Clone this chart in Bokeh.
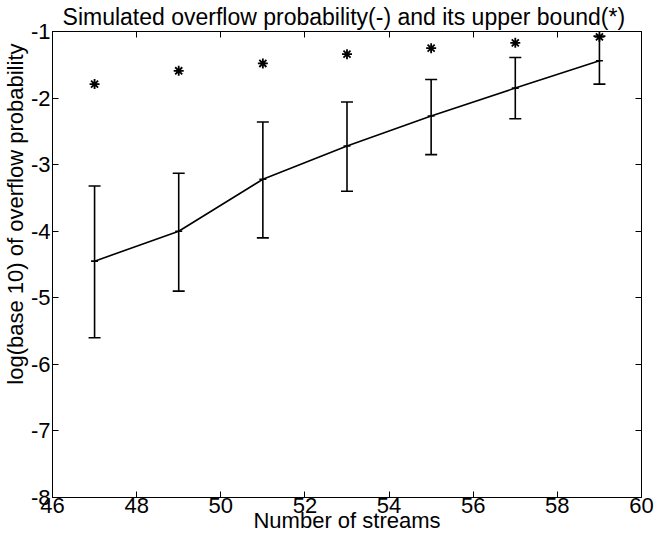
from bokeh.plotting import figure
from bokeh.models import ColumnDataSource, Whisker, TeeHead, LinearAxis, FixedTicker, Range1d, Title
from bokeh.embed import file_html
from bokeh.resources import INLINE

# ---- data ----
streams = [47, 49, 51, 53, 55, 57, 59]
sim_mean = [-4.45, -4.00, -3.22, -2.72, -2.27, -1.85, -1.44]
err_upper = [-3.32, -3.13, -2.36, -2.06, -1.72, -1.39, -1.07]
err_lower = [-5.60, -4.90, -4.10, -3.40, -2.85, -2.31, -1.79]
upper_bound = [-1.79, -1.59, -1.48, -1.34, -1.25, -1.17, -1.08]

x_ticks = [46, 48, 50, 52, 54, 56, 58, 60]
y_ticks = [-8, -7, -6, -5, -4, -3, -2, -1]
y_tick_labels = ["-8", "-7", "-6", "-5", "-4", "-3", "-2", "-1"]

title_text = "Simulated overflow  probability(-) and its upper bound(*)"
x_label = "Number of streams"
y_label = "log(base 10) of overflow probability"

FONT = "Liberation Sans"
FS = "22px"

p = figure(width=657, height=539, output_backend="svg", toolbar_location=None,
           x_range=Range1d(46, 60), y_range=Range1d(-8, -1),
           title=title_text,
           min_border_left=50, min_border_right=16, min_border_top=28, min_border_bottom=42)

p.title.text_font = FONT
p.title.text_font_size = "23px"
p.title.text_font_style = "normal"
p.title.text_color = "black"
p.title.align = "center"
p.title.standoff = 3
p.title.offset = 0

p.grid.visible = False
p.background_fill_color = "white"
p.border_fill_color = "white"
p.outline_line_color = "black"
p.outline_line_width = 1

for ax in p.xaxis:
    ax.ticker = FixedTicker(ticks=x_ticks)
    ax.axis_label = x_label
for ax in p.yaxis:
    ax.ticker = FixedTicker(ticks=y_ticks)
    ax.major_label_overrides = {t: l for t, l in zip(y_ticks, y_tick_labels)}

for ax in list(p.xaxis) + list(p.yaxis):
    ax.major_tick_in = 6
    ax.major_tick_out = 0
    ax.minor_tick_line_color = None
    ax.axis_line_color = "black"
    ax.major_tick_line_color = "black"
    ax.major_label_text_font = FONT
    ax.major_label_text_font_size = FS
    ax.major_label_text_color = "black"
    ax.axis_label_text_font = FONT
    ax.axis_label_text_font_size = FS
    ax.axis_label_text_font_style = "normal"
    ax.axis_label_text_color = "black"

p.xaxis.major_label_standoff = 0
p.xaxis.axis_label_standoff = -8
p.yaxis.major_label_standoff = 2

# y-axis label as a left-side title, placed near the top as in the reference
p.add_layout(Title(text=y_label, align="right", offset=12, standoff=0,
                   text_font=FONT, text_font_size=FS, text_font_style="normal",
                   text_color="black"), "left")

# ticks on right and top (no labels)
right_ax = LinearAxis(ticker=FixedTicker(ticks=y_ticks), major_tick_in=6, major_tick_out=0,
                      minor_tick_line_color=None, major_label_overrides={t: "" for t in y_ticks},
                      major_label_standoff=0, axis_line_color="black")
top_ax = LinearAxis(ticker=FixedTicker(ticks=x_ticks), major_tick_in=6, major_tick_out=0,
                    minor_tick_line_color=None, major_label_overrides={t: "" for t in x_ticks},
                    major_label_standoff=0, axis_line_color="black")
p.add_layout(right_ax, "right")
p.add_layout(top_ax, "above")

src = ColumnDataSource(data=dict(x=streams, mean=sim_mean, up=err_upper, lo=err_lower, ub=upper_bound))

w = Whisker(source=src, base="x", upper="up", lower="lo", dimension="height",
            line_color="black", line_width=1.6,
            upper_head=TeeHead(size=12, line_color="black", line_width=1.6),
            lower_head=TeeHead(size=12, line_color="black", line_width=1.6))
p.add_layout(w)

p.line("x", "mean", source=src, line_color="black", line_width=1.6)
p.scatter("x", "mean", source=src, marker="dash", size=7, line_color="black", line_width=1.6)
p.scatter("x", "ub", source=src, marker="asterisk", size=10, line_color="black", line_width=1.8)

open("out.html", "w").write(file_html(p, INLINE))
